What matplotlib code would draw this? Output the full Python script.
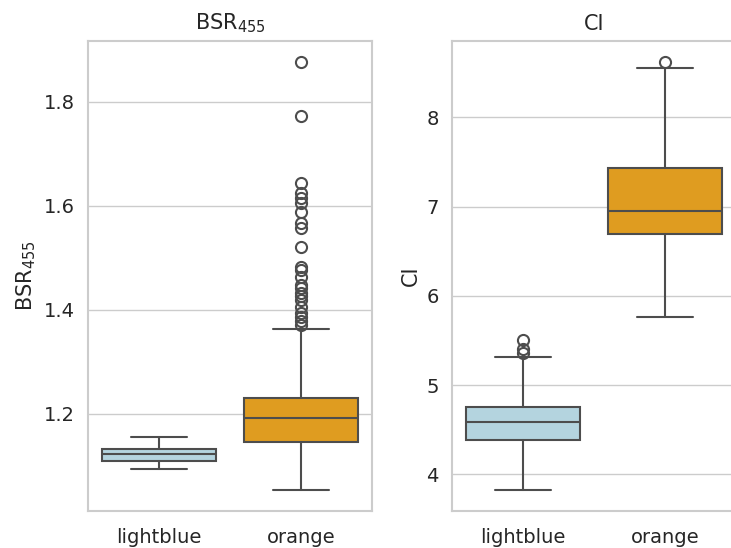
import matplotlib
matplotlib.use("Agg")
import matplotlib.pyplot as plt
import seaborn as sns

sns.set_theme(style="whitegrid")

groups = ["lightblue", "orange"]
box_colors = ["#b4d4df", "#df9c20"]

# BSR455 box stats
bsr_q1 = [1.110, 1.146]
bsr_med = [1.123, 1.192]
bsr_q3 = [1.133, 1.231]
bsr_lo = [1.094, 1.054]
bsr_hi = [1.155, 1.363]
bsr_fliers = [
    [],
    [1.876, 1.773, 1.644, 1.624, 1.615, 1.606, 1.589, 1.567, 1.557, 1.521,
     1.483, 1.477, 1.463, 1.448, 1.442, 1.432, 1.426, 1.419, 1.406, 1.394,
     1.387, 1.378, 1.371],
]

# CI box stats
ci_q1 = [4.390, 6.697]
ci_med = [4.588, 6.955]
ci_q3 = [4.749, 7.438]
ci_lo = [3.828, 5.764]
ci_hi = [5.311, 8.551]
ci_fliers = [[5.50, 5.40, 5.356], [8.618]]


def make_stats(q1, med, q3, lo, hi, fliers):
    stats = []
    for i in range(len(groups)):
        stats.append(dict(q1=q1[i], med=med[i], q3=q3[i],
                          whislo=lo[i], whishi=hi[i], fliers=fliers[i],
                          label=groups[i]))
    return stats


line_col = "#4d4d4d"
fig = plt.figure(figsize=(7.31, 5.48), dpi=100)
ax1 = fig.add_axes([88 / 731, 37 / 548, 284 / 731, 470 / 548])
ax2 = fig.add_axes([452 / 731, 37 / 548, 284 / 731, 470 / 548])

panels = [
    (ax1, make_stats(bsr_q1, bsr_med, bsr_q3, bsr_lo, bsr_hi, bsr_fliers), "BSR$_{455}$"),
    (ax2, make_stats(ci_q1, ci_med, ci_q3, ci_lo, ci_hi, ci_fliers), "CI"),
]

for ax, stats, name in panels:
    parts = ax.bxp(stats, positions=[0, 1], widths=0.8, patch_artist=True,
                   boxprops=dict(edgecolor=line_col, linewidth=1.5),
                   medianprops=dict(color=line_col, linewidth=1.5),
                   whiskerprops=dict(color=line_col, linewidth=1.5),
                   capprops=dict(color=line_col, linewidth=1.5),
                   flierprops=dict(marker="o", markerfacecolor="none",
                                   markeredgecolor=line_col, markersize=8,
                                   markeredgewidth=1.5),
                   capwidths=0.4)
    for patch, c in zip(parts["boxes"], box_colors):
        patch.set_facecolor(c)
    ax.set_xlim(-0.5, 1.5)
    ax.grid(axis="x", visible=False)
    ax.set_title(name, fontsize=15, pad=8)
    ax.set_ylabel(name, fontsize=15, labelpad=4)
    ax.tick_params(axis="both", labelsize=14)
    ax.tick_params(axis="x", pad=6)
    for s in ax.spines.values():
        s.set_color("#cccccc")
        s.set_linewidth(1.5)

ax1.set_yticks([1.2, 1.4, 1.6, 1.8])
ax2.set_yticks([4, 5, 6, 7, 8])

fig.savefig("out.png", dpi=100)
